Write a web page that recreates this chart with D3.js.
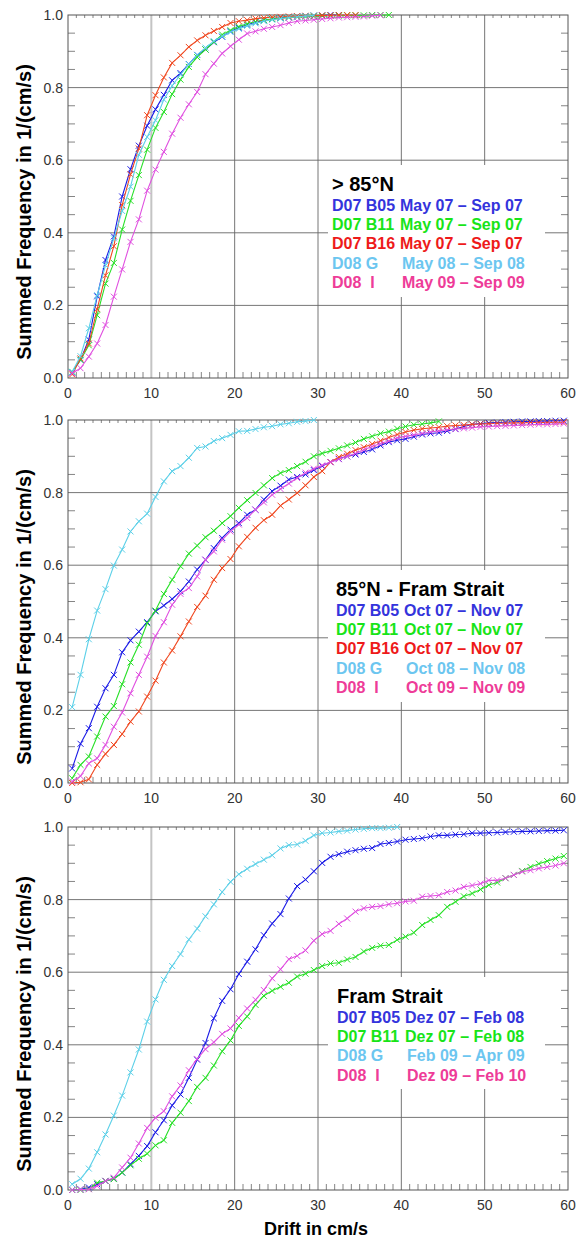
<!DOCTYPE html>
<html>
<head>
<meta charset="utf-8">
<script src="https://cdn.jsdelivr.net/npm/d3@7"></script>
<style>
  body { margin: 0; background: #fff; }
  svg { display: block; font-family: "Liberation Sans", Arial, sans-serif; }
</style>
</head>
<body>
<svg id="chart" width="579" height="1239"></svg>
<script>
// x positions are bin centres 0.5, 1.5, 2.5 ...
const xTicks = [0, 10, 20, 30, 40, 50, 60];
const yTicks = [0, 0.2, 0.4, 0.6, 0.8, 1.0];

const colors = {
  b05: '#1c1ce6', b11: '#28e028', b16: '#f04820', g: '#5cd0e8', i: '#e050e0'
};
const textColors = {
  b05: '#3434dc', b11: '#18e418', b16: '#ee1a1a', g: '#6cc6f0', i: '#ee3c98'
};

// panel 1: > 85°N
const p1Blue = [0.015,0.05,0.106,0.225,0.325,0.39,0.50,0.575,0.64,0.695,0.74,0.78,0.82,0.84,0.865,0.89,0.905,0.925,0.94,0.955,0.965,0.973,0.98,0.985,0.989,0.992,0.994,0.996,0.997,0.998,0.999,1.0,1.0];
const p1Green = [0.017,0.05,0.09,0.173,0.26,0.317,0.409,0.488,0.559,0.629,0.689,0.733,0.782,0.822,0.857,0.884,0.905,0.926,0.946,0.958,0.968,0.976,0.982,0.986,0.989,0.991,0.993,0.994,0.995,0.996,0.997,0.998,0.998,0.999,0.999,0.999,1.0,1.0,1.0];
const p1Red = [0.01,0.054,0.095,0.19,0.283,0.363,0.476,0.561,0.632,0.724,0.779,0.828,0.868,0.889,0.912,0.93,0.944,0.956,0.967,0.978,0.983,0.986,0.99,0.992,0.994,0.995,0.996,0.997,0.998,0.998,0.999,0.999,1.0,1.0,1.0];
const p1Cyan = [0.017,0.06,0.137,0.228,0.31,0.385,0.46,0.527,0.615,0.664,0.71,0.767,0.805,0.836,0.865,0.89,0.91,0.928,0.941,0.953,0.962,0.97,0.977,0.983,0.987,0.99,0.993,0.995,0.997,0.999];
const p1Magenta = [0.013,0.027,0.059,0.095,0.146,0.224,0.299,0.375,0.437,0.516,0.574,0.623,0.673,0.717,0.754,0.788,0.837,0.866,0.894,0.914,0.932,0.949,0.955,0.962,0.967,0.972,0.978,0.983,0.985,0.987,0.989,0.991,0.993,0.994,0.995,0.996,0.998,0.999];

// panel 2: 85°N - Fram Strait
const p2Blue = [0.04,0.108,0.151,0.21,0.261,0.298,0.36,0.393,0.417,0.443,0.473,0.489,0.507,0.528,0.555,0.588,0.615,0.647,0.675,0.698,0.716,0.739,0.753,0.781,0.804,0.819,0.836,0.843,0.85,0.862,0.873,0.884,0.893,0.9,0.905,0.912,0.919,0.93,0.939,0.944,0.948,0.954,0.96,0.963,0.965,0.97,0.975,0.982,0.988,0.99,0.992,0.993,0.994,0.995,0.996,0.996,0.997,0.997,0.998,0.998];
const p2Green = [0.013,0.05,0.073,0.128,0.183,0.212,0.272,0.332,0.381,0.44,0.475,0.521,0.56,0.597,0.632,0.654,0.677,0.695,0.716,0.735,0.758,0.779,0.799,0.82,0.84,0.854,0.862,0.873,0.885,0.9,0.908,0.915,0.922,0.93,0.938,0.948,0.955,0.963,0.968,0.976,0.982,0.987,0.989,0.992,0.996];
const p2Red = [0.0,0.002,0.01,0.05,0.08,0.105,0.135,0.169,0.197,0.238,0.282,0.332,0.365,0.404,0.445,0.485,0.516,0.56,0.592,0.617,0.652,0.678,0.703,0.724,0.739,0.764,0.781,0.799,0.82,0.843,0.859,0.884,0.898,0.907,0.917,0.925,0.934,0.943,0.952,0.96,0.967,0.972,0.976,0.978,0.98,0.983,0.985,0.986,0.988,0.989,0.99,0.991,0.991,0.992,0.992,0.993,0.993,0.993,0.994,0.994];
const p2Cyan = [0.209,0.298,0.396,0.475,0.534,0.599,0.643,0.693,0.721,0.742,0.788,0.831,0.859,0.873,0.896,0.923,0.927,0.942,0.95,0.959,0.969,0.97,0.975,0.98,0.983,0.988,0.991,0.995,0.997,1.0];
const p2Magenta = [0.004,0.019,0.054,0.068,0.105,0.155,0.194,0.247,0.298,0.348,0.405,0.443,0.491,0.521,0.537,0.569,0.615,0.638,0.67,0.693,0.712,0.73,0.753,0.773,0.794,0.81,0.825,0.84,0.855,0.866,0.875,0.884,0.892,0.9,0.908,0.918,0.927,0.935,0.942,0.951,0.955,0.959,0.963,0.967,0.97,0.973,0.975,0.977,0.979,0.981,0.982,0.983,0.984,0.985,0.986,0.987,0.988,0.988,0.989,0.99];

// panel 3: Fram Strait
const p3Blue = [0.0,0.002,0.007,0.016,0.025,0.031,0.048,0.071,0.094,0.121,0.159,0.192,0.233,0.263,0.309,0.359,0.405,0.473,0.521,0.553,0.595,0.629,0.663,0.702,0.734,0.76,0.803,0.837,0.855,0.878,0.901,0.918,0.925,0.932,0.936,0.94,0.942,0.953,0.956,0.96,0.965,0.967,0.969,0.974,0.977,0.977,0.979,0.98,0.983,0.983,0.984,0.985,0.986,0.987,0.988,0.988,0.989,0.99,0.99,0.991];
const p3Green = [0.0,0.0,0.003,0.02,0.025,0.03,0.048,0.068,0.086,0.1,0.123,0.137,0.185,0.213,0.245,0.284,0.309,0.343,0.382,0.412,0.452,0.478,0.51,0.535,0.549,0.56,0.571,0.588,0.596,0.606,0.617,0.624,0.626,0.635,0.642,0.657,0.667,0.673,0.675,0.689,0.698,0.709,0.73,0.744,0.757,0.78,0.794,0.809,0.817,0.828,0.84,0.847,0.859,0.868,0.879,0.89,0.899,0.906,0.913,0.92];
const p3Cyan = [0.016,0.031,0.059,0.104,0.153,0.205,0.26,0.324,0.387,0.464,0.525,0.579,0.617,0.65,0.69,0.72,0.754,0.787,0.821,0.849,0.87,0.885,0.898,0.91,0.922,0.941,0.95,0.952,0.962,0.977,0.983,0.985,0.988,0.99,0.993,0.995,0.997,0.997,0.998,1.0];
const p3Magenta = [0.0,0.001,0.002,0.011,0.025,0.034,0.062,0.089,0.128,0.171,0.199,0.217,0.258,0.288,0.33,0.361,0.388,0.407,0.43,0.445,0.474,0.5,0.524,0.551,0.583,0.608,0.636,0.645,0.66,0.687,0.705,0.714,0.733,0.748,0.767,0.776,0.78,0.782,0.787,0.79,0.795,0.797,0.808,0.81,0.812,0.821,0.825,0.835,0.839,0.844,0.853,0.853,0.859,0.868,0.877,0.881,0.886,0.89,0.894,0.9];

const panels = [
  { title: '> 85°N', top: 15, lx: 332,
    series: [['b05', p1Blue], ['b11', p1Green], ['b16', p1Red], ['g', p1Cyan], ['i', p1Magenta]],
    legend: [['b05', 'D07 B05', 'May 07 – Sep 07'], ['b11', 'D07 B11', 'May 07 – Sep 07'],
             ['b16', 'D07 B16', 'May 07 – Sep 07'], ['g', 'D08 G', 'May 08 – Sep 08'], ['i', 'D08  I', 'May 09 – Sep 09']] },
  { title: '85°N - Fram Strait', top: 420, lx: 336,
    series: [['b05', p2Blue], ['b11', p2Green], ['b16', p2Red], ['g', p2Cyan], ['i', p2Magenta]],
    legend: [['b05', 'D07 B05', 'Oct 07 – Nov 07'], ['b11', 'D07 B11', 'Oct 07 – Nov 07'],
             ['b16', 'D07 B16', 'Oct 07 – Nov 07'], ['g', 'D08 G', 'Oct 08 – Nov 08'], ['i', 'D08  I', 'Oct 09 – Nov 09']] },
  { title: 'Fram Strait', top: 827, lx: 337,
    series: [['b05', p3Blue], ['b11', p3Green], ['g', p3Cyan], ['i', p3Magenta]],
    legend: [['b05', 'D07 B05', 'Dez 07 – Feb 08'], ['b11', 'D07 B11', 'Dez 07 – Feb 08'],
             ['g', 'D08 G', 'Feb 09 – Apr 09'], ['i', 'D08  I', 'Dez 09 – Feb 10']] }
];

const svg = d3.select('#chart');
const left = 68, right = 568, h = 363;
const x = d3.scaleLinear().domain([0, 60]).range([left, right]);

panels.forEach(p => {
  const y = d3.scaleLinear().domain([0, 1]).range([p.top + h, p.top]);
  const g = svg.append('g');

  // grid
  g.selectAll('.vg').data(xTicks.slice(1, -1)).join('line')
    .attr('x1', d => x(d)).attr('x2', d => x(d))
    .attr('y1', y(0)).attr('y2', y(1))
    .attr('stroke', d => d === 10 ? '#c4c4c4' : '#666')
    .attr('stroke-width', d => d === 10 ? 2 : 0.9);
  g.selectAll('.hg').data(yTicks.slice(1, -1)).join('line')
    .attr('x1', left).attr('x2', right)
    .attr('y1', d => y(d)).attr('y2', d => y(d))
    .attr('stroke', '#666').attr('stroke-width', 0.9);

  // minor ticks
  const xm = d3.range(1, 60).filter(d => d % 10 !== 0);
  g.selectAll('.bt').data(xm).join('line')
    .attr('x1', d => x(d)).attr('x2', d => x(d))
    .attr('y1', y(0)).attr('y2', y(0) - 6)
    .attr('stroke', '#666').attr('stroke-width', 0.8);
  g.selectAll('.tt').data(xm).join('line')
    .attr('x1', d => x(d)).attr('x2', d => x(d))
    .attr('y1', y(1)).attr('y2', y(1) + 3)
    .attr('stroke', '#666').attr('stroke-width', 0.8);
  const ym = d3.range(1, 20).map(d => d * 0.05).filter((d, i) => (i + 1) % 4 !== 0);
  [[left, 7], [right, -7]].forEach(([x0, len]) => {
    g.selectAll(null).data(ym).join('line')
      .attr('x1', x0).attr('x2', x0 + len)
      .attr('y1', d => y(d)).attr('y2', d => y(d))
      .attr('stroke', '#666').attr('stroke-width', 0.8);
  });

  // frame
  g.append('rect')
    .attr('x', left).attr('y', p.top).attr('width', right - left).attr('height', h)
    .attr('fill', 'none').attr('stroke', '#555').attr('stroke-width', 1);

  // tick labels
  g.selectAll('.xl').data(xTicks).join('text')
    .attr('x', d => x(d)).attr('y', y(0) + 20)
    .attr('text-anchor', 'middle')
    .attr('font-size', 14).attr('fill', '#333')
    .text(d => d);
  g.selectAll('.yl').data(yTicks).join('text')
    .attr('x', left - 5).attr('y', d => y(d) + 5)
    .attr('text-anchor', 'end')
    .attr('font-size', 14).attr('fill', '#333')
    .text(d => d3.format('.1f')(d));

  // axis title
  g.append('text')
    .attr('transform', `translate(31,${p.top + 197}) rotate(-90)`)
    .attr('text-anchor', 'middle')
    .attr('font-size', 20).attr('font-weight', 'bold')
    .text('Summed Frequency in 1/(cm/s)');

  // series
  const line = d3.line().x((d, i) => x(i + 0.5)).y(d => y(d));
  p.series.forEach(([key, vals]) => {
    const s = g.append('g');
    s.append('path').datum(vals)
      .attr('d', line).attr('fill', 'none')
      .attr('stroke', colors[key]).attr('stroke-width', 1.1);
    s.selectAll('path.m').data(vals).join('path')
      .attr('class', 'm')
      .attr('d', (d, i) => {
        const cx = x(i + 0.5), cy = y(d), r = 3;
        return `M${cx - r},${cy - r}L${cx + r},${cy + r}M${cx - r},${cy + r}L${cx + r},${cy - r}`;
      })
      .attr('stroke', colors[key]).attr('stroke-width', 1);
  });

  // legend
  const lt = p.top + 150;
  const lh = p.legend.length === 5 ? 132 : 112;
  g.append('rect').attr('x', 328).attr('y', lt).attr('width', 217).attr('height', lh).attr('fill', '#fff');
  g.append('text')
    .attr('x', p.lx).attr('y', p.top + 175.5)
    .attr('font-size', 20).attr('font-weight', 'bold').attr('fill', '#000')
    .text(p.title);
  p.legend.forEach(([key, label, period], i) => {
    const ty = p.top + 195.5 + i * 19.4;
    g.append('text')
      .attr('x', p.lx).attr('y', ty)
      .attr('font-size', 16).attr('font-weight', 'bold').attr('fill', textColors[key])
      .attr('xml:space', 'preserve')
      .text(label);
    g.append('text')
      .attr('x', p.lx + (key === 'g' || key === 'i' ? 70 : 68)).attr('y', ty)
      .attr('font-size', 16).attr('font-weight', 'bold').attr('fill', textColors[key])
      .text(period);
  });
});

svg.append('text')
  .attr('x', 316).attr('y', 1235)
  .attr('text-anchor', 'middle')
  .attr('font-size', 18).attr('font-weight', 'bold')
  .text('Drift in cm/s');
</script>
</body>
</html>
